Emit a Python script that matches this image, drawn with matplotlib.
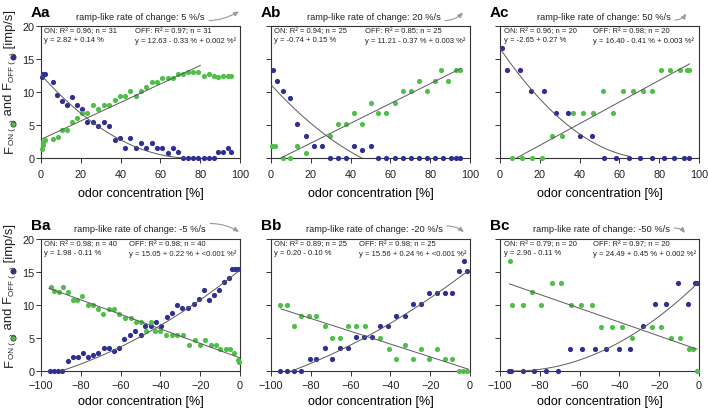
import numpy as np
import matplotlib
matplotlib.use("Agg")
from matplotlib import pyplot as plt
from matplotlib.path import Path
from matplotlib.patches import FancyArrowPatch

plt.rcParams['font.family'] = ['Liberation Sans', 'DejaVu Sans']
plt.rcParams['mathtext.default'] = 'regular'

W, H = 708, 410
green = '#4fbf4a'
blue = '#2d2f92'
fitc = '#5a5a5a'

# ---- data (ON = green, OFF = blue) ----
# Aa  +5 %/s
aa_on_x = [0.5, 0.8, 1.2, 1.8, 6.1, 8.3, 10.6, 13.1, 15.8, 18.3, 20.8, 23.3, 25.9, 28.7, 31.5, 34.1,
           37.1, 39.7, 42.4, 44.9, 47.6, 50.3, 53.0, 55.6, 58.3, 61.0, 63.7, 66.4, 68.9, 71.6, 73.9,
           76.4, 78.9, 81.8, 84.3, 86.8, 89.0, 91.5, 94.0, 95.3]
aa_on_y = [1.4, 2.0, 2.5, 2.8, 2.9, 3.2, 4.2, 4.2, 5.4, 6.1, 6.8, 6.8, 8.1, 7.4, 8.1, 8.1,
           8.8, 9.4, 9.4, 10.1, 9.4, 10.1, 10.8, 11.5, 11.5, 12.1, 12.1, 12.1, 12.7, 12.7, 13.1,
           13.1, 13.1, 12.5, 12.8, 12.5, 12.2, 12.5, 12.5, 12.5]
aa_off_x = [0.75, 1.1, 1.9, 6.1, 8.1, 10.6, 13.1, 15.8, 18.3, 20.8, 23.3, 25.9, 28.7, 31.5, 34.1,
            37.1, 39.7, 42.4, 44.9, 47.6, 50.3, 53.0, 55.6, 58.3, 61.0, 63.7, 66.4, 68.9, 71.6,
            73.9, 76.4, 78.9, 81.8, 84.3, 86.8, 89.0, 91.5, 94.0, 95.3]
aa_off_y = [12.2, 12.7, 12.7, 11.5, 9.5, 8.6, 8.1, 9.2, 8.1, 7.4, 5.5, 5.5, 4.8, 5.4, 4.8,
            2.8, 3.1, 1.5, 3.0, 1.5, 2.2, 1.5, 2.2, 1.5, 1.5, 0.75, 1.5, 0.85, 0,
            0, 0, 0, 0, 0, 0, 0.9, 0.9, 1.56, 0.9]
# Ab  +20 %/s
ab_on_x = [0.6, 1.9, 6.1, 9.6, 13.3, 17.5, 29.5, 33.7, 37.9, 41.9, 45.9, 50.0, 54.0, 58.0, 62.2,
           66.2, 70.2, 74.2, 78.2, 82.3, 85.6, 88.9, 92.8, 94.8]
ab_on_y = [1.8, 1.8, 0, 0, 1.8, 0.75, 3.4, 5.2, 5.2, 6.8, 5.2, 8.4, 6.8, 6.8, 8.4,
           10.1, 10.1, 11.7, 10.1, 11.7, 13.4, 11.7, 13.4, 13.4]
ab_off_x = [0.9, 2.8, 6.1, 9.6, 13.3, 17.5, 21.5, 25.4, 29.5, 33.7, 37.9, 41.9, 45.9, 50.0, 54.0,
            58.0, 62.2, 66.2, 70.2, 74.2, 78.2, 82.3, 86.3, 90.3, 92.8, 94.8]
ab_off_y = [13.4, 11.7, 10.1, 9.1, 5.2, 3.4, 1.8, 1.8, 0, 0, 0, 1.8, 1.2, 1.8, 0,
            0, 0, 0, 0, 0, 0, 0, 0, 0, 0, 0]
# Ac  +50 %/s
ac_on_x = [6.1, 11.1, 16.2, 21.2, 26.2, 31.4, 36.7, 41.8, 46.6, 51.8, 56.8, 61.8, 66.9, 71.7, 76.4,
           81.1, 85.6, 90.3, 94.0, 95.1]
ac_on_y = [0, 0, 0, 0, 3.4, 3.4, 6.8, 6.8, 6.8, 10.1, 6.8, 10.1, 10.1, 10.1, 10.1,
           13.4, 13.4, 13.4, 13.4, 13.4]
ac_off_x = [1.1, 3.6, 9.8, 15.6, 22.0, 28.0, 34.2, 40.4, 46.3, 52.5, 58.5, 64.7, 70.5, 76.4, 82.3,
            87.3, 92.3, 95.1]
ac_off_y = [16.6, 13.4, 13.4, 10.1, 10.1, 6.8, 6.8, 3.4, 3.4, 0, 0, 0, 0, 0, 0,
            0, 0, 0]
# Ba  -5 %/s
ba_on_x = [-95.2, -93.4, -91.0, -88.7, -86.6, -84.0, -81.7, -79.2, -76.5, -74.0, -71.4, -68.6, -66.0,
           -63.4, -60.6, -57.8, -55.0, -52.4, -49.8, -47.2, -44.6, -42.6, -40.0, -37.2, -34.4, -31.6,
           -28.6, -25.6, -22.8, -20.2, -17.4, -14.8, -12.2, -9.8, -7.0, -4.8, -2.8, -1.0, -0.4]
ba_on_y = [12.7, 12.1, 12.0, 12.7, 12.0, 10.7, 10.7, 11.4, 10.0, 10.0, 9.4, 8.7, 9.4,
           9.4, 8.7, 8.1, 8.1, 7.4, 7.4, 6.1, 7.4, 6.1, 6.1, 5.4, 5.4, 5.4,
           5.4, 4.0, 4.7, 4.0, 4.7, 4.0, 4.0, 3.4, 3.4, 3.4, 2.7, 1.6, 1.4]
ba_off_x = [-95.6, -93.6, -91.7, -89.4, -86.4, -83.8, -81.3, -78.8, -76.3, -73.8, -71.3, -68.5, -65.9,
            -63.3, -60.8, -58.2, -55.4, -52.9, -50.0, -47.5, -44.8, -42.3, -39.5, -36.7, -34.1, -31.6,
            -29.1, -26.1, -23.3, -20.8, -18.2, -15.6, -13.1, -10.6, -8.2, -5.7, -3.9, -2.3, -1.0]
ba_off_y = [0, 0, 0, 0, 1.5, 2.1, 2.1, 2.8, 2.1, 2.5, 2.8, 3.5, 3.5,
            3.1, 3.5, 4.8, 5.5, 6.1, 5.5, 6.8, 6.8, 7.5, 6.8, 8.2, 8.8, 10.0,
            9.5, 9.5, 10.2, 10.9, 12.2, 10.8, 11.5, 12.2, 13.5, 14.1, 15.5, 15.5, 15.5]
# Bb  -20 %/s
bb_on_x = [-95.6, -92.2, -88.5, -84.7, -81.0, -77.2, -73.0, -69.1, -65.1, -61.3, -57.1, -53.0, -45.0,
           -40.8, -37.0, -32.8, -28.6, -24.4, -20.8, -16.6, -12.7, -9.1, -5.7, -3.5, -1.7]
bb_on_y = [10.0, 10.0, 6.8, 8.3, 8.3, 8.3, 6.8, 5.0, 5.0, 6.8, 6.8, 6.8, 5.0,
           3.4, 1.8, 4.0, 1.8, 3.4, 1.8, 3.4, 1.8, 1.8, 0, 0, 0]
bb_off_x = [-95.6, -92.2, -88.5, -84.7, -80.5, -77.2, -73.0, -69.1, -65.1, -61.3, -57.1, -53.2, -49.2,
            -45.0, -41.2, -37.0, -32.8, -28.6, -24.4, -20.8, -16.6, -12.7, -9.1, -5.7, -3.0, -1.7]
bb_off_y = [0, 0, 0, 0, 1.8, 1.8, 3.5, 1.8, 3.5, 3.5, 5.1, 5.1, 5.1,
            6.8, 6.8, 8.4, 8.4, 10.1, 10.1, 11.8, 11.8, 11.8, 11.8, 15.1, 16.7, 15.1]
# Bc  -50 %/s
bc_on_x = [-95.2, -94.2, -88.5, -83.8, -79.2, -74.1, -69.1, -64.1, -59.1, -54.0, -49.0, -43.8, -38.6,
           -33.6, -23.6, -18.9, -14.0, -9.4, -5.2, -3.2, -1.0]
bc_on_y = [16.6, 10.0, 10.0, 12.0, 10.0, 13.4, 13.4, 10.0, 10.0, 10.0, 6.7, 6.7, 6.7,
           5.0, 6.7, 6.7, 5.0, 5.0, 3.4, 3.4, 0]
bc_off_x = [-95.3, -94.5, -88.4, -82.7, -76.8, -71.0, -64.9, -58.7, -52.5, -46.5, -40.3, -34.5, -28.3,
            -22.1, -16.4, -10.7, -5.7, -2.2, -1.0]
bc_off_y = [0, 0, 0, 0, 0, 0, 3.4, 3.4, 3.4, 3.4, 3.4, 3.4, 6.8,
            10.1, 10.1, 13.4, 10.1, 13.4, 13.4]

# fitted lines / curves as drawn (coefficients low -> high order) and their x ranges
fits_on = [[2.82, 0.14], [-0.74, 0.15], [-1.36, 0.164], [1.98, -0.11], [0.2, -0.097], [3.2, -0.105]]
fits_on_rng = [[0, 80], [5, 95.5], [8.3, 95.3], [-96, 0], [-95, -1], [-95.2, -1]]
fits_off = [[12.6, -0.336, 0.00224], [11.1, -0.33, 0.0019], [16.6, -0.44, 0.0029],
            [15.3, 0.242, 0.0008], [15.4, 0.23, 0.00065], [13.5, 0.292, 0.00158]]
fits_off_rng = [[0, 72], [0, 46], [0, 64.7], [-91, 0], [-90, -1], [-93, 0]]

panel_names = ['Aa', 'Ab', 'Ac', 'Ba', 'Bb', 'Bc']
rates = ['5', '20', '50', '-5', '-20', '-50']
on_stats = [('0.96', '31', 'y = 2.82 + 0.14 %'), ('0.94', '25', 'y = -0.74 + 0.15 %'),
            ('0.96', '20', 'y = -2.65 + 0.27 %'), ('0.98', '40', 'y = 1.98 - 0.11 %'),
            ('0.89', '25', 'y = 0.20 - 0.10 %'), ('0.79', '20', 'y = 2.96 - 0.11 %')]
off_stats = [('0.97', '31', 'y = 12.63 - 0.33 % + 0.002 %²'), ('0.85', '25', 'y = 11.21 - 0.37 % + 0.003 %²'),
             ('0.98', '20', 'y = 16.40 - 0.41 % + 0.003 %²'), ('0.98', '40', 'y = 15.05 + 0.22 % + <0.001 %²'),
             ('0.98', '25', 'y = 15.56 + 0.24 % + <0.001 %²'), ('0.97', '20', 'y = 24.49 + 0.45 % + 0.002 %²')]
on_data = [(aa_on_x, aa_on_y), (ab_on_x, ab_on_y), (ac_on_x, ac_on_y),
           (ba_on_x, ba_on_y), (bb_on_x, bb_on_y), (bc_on_x, bc_on_y)]
off_data = [(aa_off_x, aa_off_y), (ab_off_x, ab_off_y), (ac_off_x, ac_off_y),
            (ba_off_x, ba_off_y), (bb_off_x, bb_off_y), (bc_off_x, bc_off_y)]

# layout in pixels
cols = [(41, 240), (271, 470), (500, 699)]
rows = [(27, 159), (240, 372)]
off_text_dx = [94, 94, 93, 88, 88, 93]
# ramp icons: start, control, end (pixels, y down)
icons = [[(209, 21.5), (223, 21.5), (239, 12.5)],
         [(445, 21.5), (455, 21.5), (463, 13.5)],
         [(675, 21), (682, 21), (686, 14.5)],
         [(210, 224.5), (226, 224.5), (239, 233)],
         [(447, 227), (456, 227), (464, 233)],
         [(674, 229), (681, 229), (685, 234)]]

fig = plt.figure(figsize=(W / 100, H / 100), dpi=100)


def fx(px):
    return px / W


def fy(py):
    return 1 - py / H


for i in range(6):
    r, c = divmod(i, 3)
    l, rt = cols[c]
    t, b = rows[r]
    ax = fig.add_axes([fx(l), fy(b), (rt - l) / W, (b - t) / H])
    ox, oy = on_data[i]
    fx_, fy_ = off_data[i]
    ax.scatter(fx_, fy_, s=14, color=blue, lw=0, zorder=3, clip_on=False)
    ax.scatter(ox, oy, s=14, color=green, lw=0, zorder=3, clip_on=False)
    xx = np.linspace(fits_on_rng[i][0], fits_on_rng[i][1], 100)
    ax.plot(xx, np.polyval(fits_on[i][::-1], xx), color=fitc, lw=0.7, zorder=4)
    xx = np.linspace(fits_off_rng[i][0], fits_off_rng[i][1], 100)
    ax.plot(xx, np.polyval(fits_off[i][::-1], xx), color=fitc, lw=0.7, zorder=4)
    ax.set_ylim(0, 20)
    ax.set_yticks([0, 5, 10, 15, 20])
    if r == 0:
        ax.set_xlim(0, 100)
        ax.set_xticks([0, 20, 40, 60, 80, 100])
    else:
        ax.set_xlim(-100, 0)
        ax.set_xticks([-100, -80, -60, -40, -20, 0])
    if c != 0:
        ax.set_yticklabels([])
    for sp in ax.spines.values():
        sp.set_linewidth(0.8)
        sp.set_color('#333333')
    ax.tick_params(direction='out', length=3.5, width=0.7, color='#333333', labelsize=7.8,
                   labelcolor='#222222')
    ax.tick_params(axis='y', pad=1)
    if r == 0:
        ax.tick_params(axis='x', pad=4.5)
        ax.set_xlabel('odor concentration [%]', fontsize=9, labelpad=6)
    else:
        ax.tick_params(axis='x', pad=3)
        ax.set_xlabel('odor concentration [%]', fontsize=9, labelpad=3.5)
    w = rt - l
    hgt = b - t
    R2, n, eq = on_stats[i]
    ax.text(3.5 / w, 1 - 1.5 / hgt, 'ON: R² = %s; n = %s\n%s' % (R2, n, eq), transform=ax.transAxes,
            fontsize=5.5, va='top', ha='left', linespacing=1.25, color='#222222')
    R2, n, eq = off_stats[i]
    ax.text(off_text_dx[i] / w, 1 - 1.5 / hgt, 'OFF: R² = %s; n = %s\n%s' % (R2, n, eq),
            transform=ax.transAxes, fontsize=5.5, va='top', ha='left', linespacing=1.25, color='#222222')
    # panel label and ramp text
    fig.text(fx(l - 10), fy(t - 14), panel_names[i], fontsize=11, fontweight='bold', ha='left', va='center')
    s0, s1, s2 = icons[i]
    fig.text(fx(s0[0] - 4), fy(t - 10), 'ramp-like rate of change: %s %%/s' % rates[i], fontsize=6.7,
             ha='right', va='center', color='#222222')
    p = Path([(fx(s0[0]), fy(s0[1])), (fx(s1[0]), fy(s1[1])), (fx(s2[0]), fy(s2[1]))],
             [Path.MOVETO, Path.CURVE3, Path.CURVE3])
    arr = FancyArrowPatch(path=p, arrowstyle='-|>,head_length=3,head_width=1.3', color='#9a9a9a',
                          lw=0.8, transform=fig.transFigure, mutation_scale=1)
    fig.patches.append(arr)

# y labels built from pieces so the little coloured dots can sit inside
fig.canvas.draw()
renderer = fig.canvas.get_renderer()
big, small = 9.4, 5.8
sub = 2.0  # px shift of subscript baseline
pieces = [('F', big, 0), ('ON (', small, sub), ('dot', green, sub), (')', small, sub),
          (' and F', big, 0), ('OFF (', small, sub), ('dot', blue, sub), (')', small, sub),
          (' [imp/s]', big, 0)]
for y_start in [153, 367]:
    x_base = 12.5
    y = y_start
    for s, v, dx in pieces:
        if s == 'dot':
            d = 6.0
            fig.lines.append(plt.Line2D([fx(x_base + dx - 2.0)], [fy(y - d / 2)], marker='o', ms=3.8,
                                        mfc=v, mec='#333333', mew=0.5, transform=fig.transFigure))
            y -= d
            continue
        tt = fig.text(fx(x_base + dx), fy(y), s, fontsize=v, rotation=90, rotation_mode='anchor',
                      ha='left', va='baseline', color='#222222')
        bb = tt.get_window_extent(renderer)
        y -= bb.height

fig.savefig('out.png', dpi=100)
